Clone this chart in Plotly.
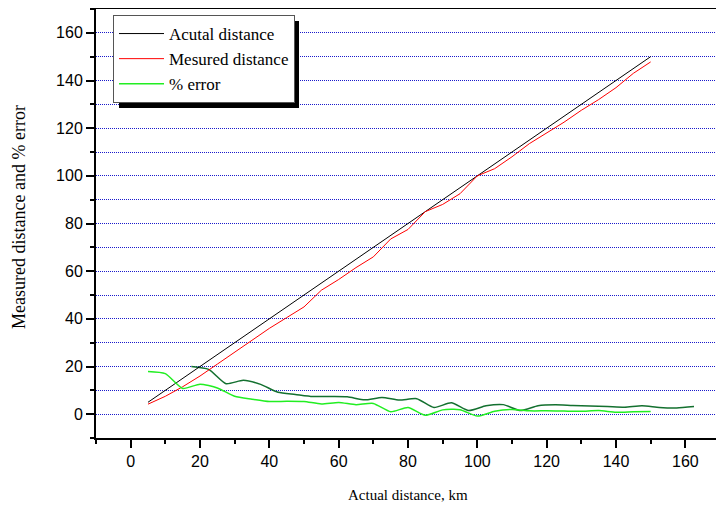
import plotly.graph_objects as go

# ---- data ----
actual_x = [5, 10, 15, 20, 25, 30, 35, 40, 45, 50, 55, 60, 65, 70, 75, 80, 85, 90, 95, 100,
            105, 110, 115, 120, 125, 130, 135, 140, 145, 150]
actual_dist = [5, 10, 15, 20, 25, 30, 35, 40, 45, 50, 55, 60, 65, 70, 75, 80, 85, 90, 95, 100,
               105, 110, 115, 120, 125, 130, 135, 140, 145, 150]
measured_dist = [4.2, 7.5, 11.5, 16, 21, 26, 31, 36, 40.5, 45, 52, 56.5, 61.5, 66, 73.5, 77.5,
                 85, 88, 92.5, 100, 103, 108, 113.5, 118, 122.5, 127.5, 132, 137, 143, 147.8]
pct_error = [17.9, 17, 10.8, 12.6, 11, 7.5, 6.3, 5.3, 5.4, 5.3, 4.3, 4.9, 4.0, 4.5, 1.0, 2.8,
             -0.5, 1.8, 1.9, -0.8, 1.2, 2.0, 1.4, 1.4, 1.3, 1.2, 1.5, 0.8, 1.0, 1.1]
second_x = [17.5, 22.5, 27.5, 32.5, 37.5, 42.5, 47.5, 52.5, 57.5, 62.5, 67.5, 72.5, 77.5, 82.5,
            87.5, 92.5, 97.5, 102.5, 107.5, 112.5, 117.5, 122.5, 127.5, 132.5, 137.5, 142.5,
            147.5, 152.5, 157.5, 162.5]
second_err = [20, 18.8, 12.8, 14.2, 12.5, 9.2, 8.3, 7.4, 7.4, 7.3, 6.0, 7.0, 5.9, 6.5, 2.8, 4.8,
              1.5, 3.5, 4.0, 1.5, 3.5, 3.9, 3.6, 3.4, 3.2, 2.9, 3.5, 2.8, 2.6, 3.2]

x_ticks = [0, 20, 40, 60, 80, 100, 120, 140, 160]
y_ticks = [0, 20, 40, 60, 80, 100, 120, 140, 160]

SERIF = "Liberation Serif, Times New Roman, serif"
SANS = "Liberation Sans, Arial, sans-serif"

fig = go.Figure()
fig.add_trace(go.Scatter(x=second_x, y=second_err, mode="lines", showlegend=False,
                         line=dict(color="#13702f", width=1.5, shape="spline", smoothing=0.6)))
fig.add_trace(go.Scatter(x=actual_x, y=actual_dist, mode="lines", name="Acutal distance",
                         line=dict(color="black", width=1)))
fig.add_trace(go.Scatter(x=actual_x, y=measured_dist, mode="lines", name="Mesured distance",
                         line=dict(color="#ff0000", width=1)))
fig.add_trace(go.Scatter(x=actual_x, y=pct_error, mode="lines", name="% error",
                         line=dict(color="#22ee22", width=1.5, shape="spline", smoothing=0.6)))

# page body has an 8px default margin; figure is sized so the plot sits where the reference has it
OFF = 8
W, H = 716, 500
L, R, T, B = 88, 4, 1, 70
pw, ph = W - L - R, H - T - B

def px2paper(px, py):
    """page pixel -> paper coordinates"""
    fx, fy = px - OFF, py - OFF
    return (fx - L) / pw, (H - B - fy) / ph

# legend box (page px) and its drop shadow
leg_l, leg_t = 113, 15
leg_w, leg_h = 180, 88
sx0, sy0 = px2paper(leg_l + 6, leg_t + leg_h + 5)
sx1, sy1 = px2paper(leg_l + leg_w + 6, leg_t + 6)

lx, ly = px2paper(leg_l, leg_t)
xt_x, xt_y = px2paper(408, 495)
yt_x, yt_y = px2paper(19, 217)

fig.update_layout(
    width=W, height=H,
    margin=dict(l=L, r=R, t=T, b=B),
    plot_bgcolor="white", paper_bgcolor="white",
    showlegend=True,
    legend=dict(x=lx, y=ly, xanchor="left", yanchor="top",
                bgcolor="white", bordercolor="#555555", borderwidth=1,
                font=dict(family=SERIF, size=17, color="black"),
                itemwidth=45, tracegroupgap=0),
    shapes=[dict(type="rect", xref="paper", yref="paper", x0=sx0, x1=sx1, y0=sy0, y1=sy1,
                 fillcolor="black", line=dict(width=0), layer="above")],
    annotations=[
        dict(text="Actual distance, km", xref="paper", yref="paper", x=xt_x, y=xt_y,
             showarrow=False, xanchor="center", yanchor="middle",
             font=dict(family=SERIF, size=15, color="black")),
        dict(text="Measured distance and % error", xref="paper", yref="paper", x=yt_x, y=yt_y,
             showarrow=False, xanchor="center", yanchor="middle", textangle=-90,
             font=dict(family=SERIF, size=18, color="black")),
    ],
    xaxis=dict(range=[-10, 170], tickvals=x_ticks, ticks="outside", ticklen=8, tickwidth=2,
               tickcolor="black", showline=True, linewidth=2, linecolor="black", mirror=True,
               showgrid=False, zeroline=False, automargin=False,
               tickfont=dict(family=SANS, size=16, color="black"),
               minor=dict(dtick=10, tick0=0, ticks="outside", ticklen=4, tickwidth=1.5,
                          tickcolor="black", showgrid=False)),
    yaxis=dict(range=[-10, 170], tickvals=y_ticks, ticks="outside", ticklen=8, tickwidth=2,
               tickcolor="black", showline=True, linewidth=2, linecolor="black", mirror=False,
               showgrid=True, gridcolor="#1a1acc", griddash="1px,1px", gridwidth=1,
               zeroline=False, automargin=False,
               tickfont=dict(family=SANS, size=16, color="black"),
               minor=dict(dtick=10, tick0=0, ticks="outside", ticklen=4, tickwidth=1.5,
                          tickcolor="black", showgrid=True, gridcolor="#1a1acc",
                          griddash="1px,1px", gridwidth=1)),
)

fig.write_html("out.html")
